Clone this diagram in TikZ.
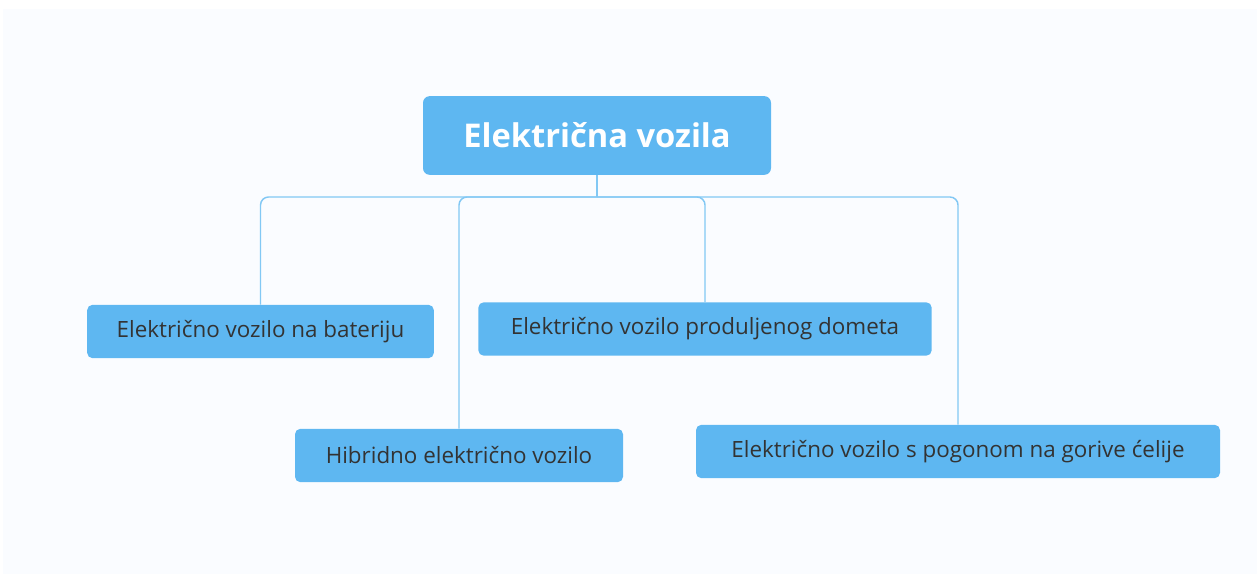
\documentclass[tikz,border=0pt]{standalone}
\usepackage{fontspec}
\setmainfont{Open Sans}
\definecolor{panel}{RGB}{250,252,255}
\definecolor{boxblue}{RGB}{94,183,241}
\definecolor{linkblue}{RGB}{130,200,244}
\definecolor{txtgray}{RGB}{51,51,51}

\begin{document}
\begin{tikzpicture}[x=0.75pt, y=-0.75pt,
  topic/.style={draw=none, fill=boxblue, rounded corners=5pt, text=white, font=\fontsize{24.5}{28}\selectfont\bfseries, minimum width=261pt, minimum height=59pt},
  subtopic/.style={draw=none, fill=boxblue, rounded corners=4pt, text=txtgray, font=\fontsize{16.8}{20}\selectfont, minimum height=40pt},
  link/.style={draw=linkblue, line width=1.1pt, rounded corners=6pt}]
\useasboundingbox (0,0) rectangle (1257,577);
\fill[panel] (3,9) rectangle (1257,574);
\node (ev)[topic] at (597,135.5) {Električna vozila};
\node (bat)[subtopic, minimum width=260pt] at (260.5,331.5) {Električno vozilo na bateriju};
\node (hib)[subtopic, minimum width=246pt] at (459,455.5) {Hibridno električno vozilo};
\node (dom)[subtopic, minimum width=340pt] at (705,329) {Električno vozilo produljenog dometa};
\node (gor)[subtopic, minimum width=393pt] at (958,451.5) {Električno vozilo s pogonom na gorive ćelije};
\coordinate (bus) at (597,197);
\draw[link] (ev.south) -- (bus);
\draw[link] (bus) -| (bat.north);
\draw[link] (bus) -| (hib.north);
\draw[link] (bus) -| (dom.north);
\draw[link] (bus) -| (gor.north);
\end{tikzpicture}
\end{document}
